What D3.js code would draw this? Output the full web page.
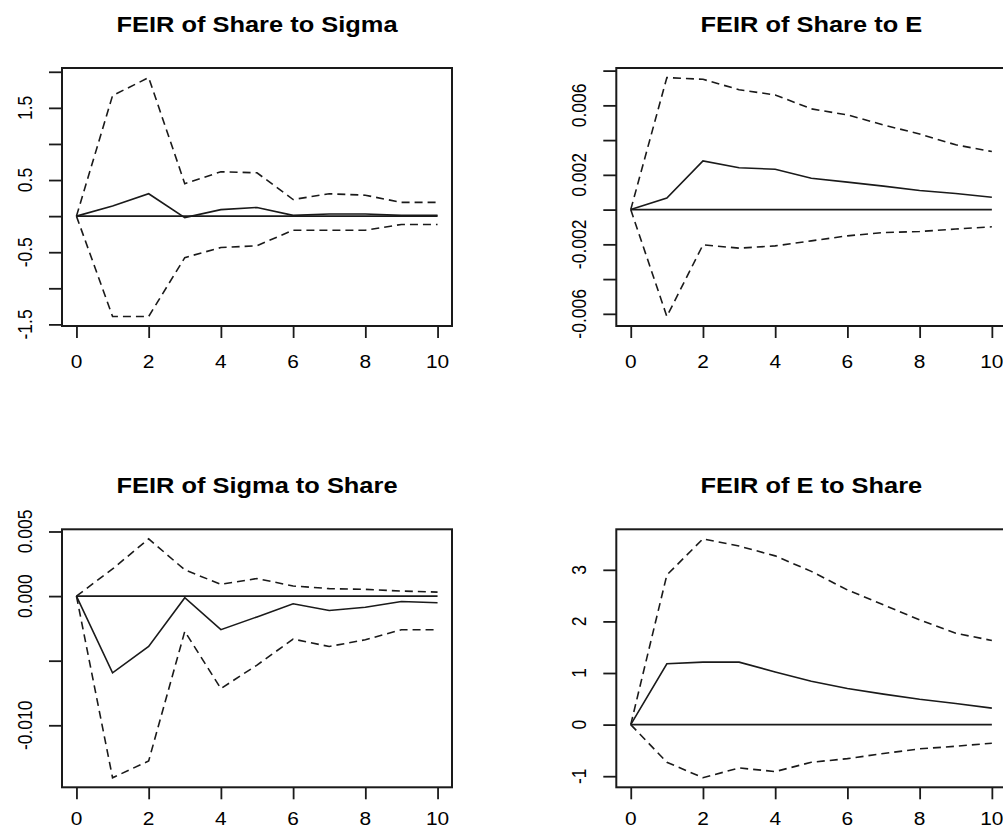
<!DOCTYPE html>
<html>
<head>
<meta charset="utf-8">
<script src="https://cdn.jsdelivr.net/npm/d3@7"></script>
<style>
  body { margin: 0; background: #fff; }
  svg { display: block; }
  text { font-family: "Liberation Sans", Arial, sans-serif; fill: #000; }
</style>
</head>
<body>
<div id="chart"></div>
<script>
'use strict';

// forecast horizon
var steps = [0, 1, 2, 3, 4, 5, 6, 7, 8, 9, 10];
var xTicks = [0, 2, 4, 6, 8, 10];

// FEIR of Share to Sigma
var shareSigmaIrf = [0, 0.14, 0.31, -0.02, 0.09, 0.12, 0.01, 0.03, 0.03, 0.01, 0.01];
var shareSigmaUpper = [0, 1.67, 1.92, 0.45, 0.615, 0.60, 0.23, 0.31, 0.29, 0.19, 0.19];
var shareSigmaLower = [0, -1.39, -1.39, -0.575, -0.435, -0.41, -0.195, -0.195, -0.195, -0.115, -0.115];
var shareSigmaTicks = [-1.5, -1, -0.5, 0, 0.5, 1, 1.5, 2];
var shareSigmaLabels = ["-1.5", "", "-0.5", "", "0.5", "", "1.5", ""];

// FEIR of Share to E
var shareEIrf = [0, 0.00066, 0.0028, 0.00241, 0.00232, 0.0018, 0.00158, 0.00135, 0.0011, 0.00093, 0.00071];
var shareEUpper = [0, 0.0076, 0.0075, 0.0069, 0.0066, 0.0058, 0.00545, 0.00487, 0.00435, 0.00373, 0.00334];
var shareELower = [0, -0.00615, -0.00203, -0.00222, -0.00209, -0.0018, -0.00151, -0.00132, -0.00126, -0.00112, -0.00099];
var shareETicks = [-0.006, -0.004, -0.002, 0, 0.002, 0.004, 0.006, 0.008];
var shareELabels = ["-0.006", "", "-0.002", "", "0.002", "", "0.006", ""];

// FEIR of Sigma to Share
var sigmaShareIrf = [0, -0.00594, -0.0039, -0.00013, -0.0026, -0.00161, -0.00059, -0.00112, -0.00086, -0.00042, -0.00052];
var sigmaShareUpper = [0, 0.0021, 0.00443, 0.00203, 0.00091, 0.00136, 0.00078, 0.00058, 0.00052, 0.00039, 0.00031];
var sigmaShareLower = [0, -0.01406, -0.01276, -0.00273, -0.00716, -0.00534, -0.00333, -0.0039, -0.00338, -0.0026, -0.0026];
var sigmaShareTicks = [-0.010, -0.005, 0, 0.005];
var sigmaShareLabels = ["-0.010", "", "0.000", "0.005"];

// FEIR of E to Share
var eShareIrf = [0, 1.18, 1.21, 1.21, 1.02, 0.84, 0.70, 0.59, 0.49, 0.41, 0.32];
var eShareUpper = [0, 2.90, 3.60, 3.46, 3.27, 2.97, 2.61, 2.32, 2.03, 1.77, 1.63];
var eShareLower = [0, -0.73, -1.03, -0.84, -0.91, -0.73, -0.66, -0.56, -0.47, -0.42, -0.36];
var eShareTicks = [-1, 0, 1, 2, 3];
var eShareLabels = ["-1", "0", "1", "2", "3"];

var panels = [
  { title: "FEIR of Share to Sigma", irf: shareSigmaIrf, upper: shareSigmaUpper, lower: shareSigmaLower,
    ticks: shareSigmaTicks, labels: shareSigmaLabels, col: 0, row: 0 },
  { title: "FEIR of Share to E", irf: shareEIrf, upper: shareEUpper, lower: shareELower,
    ticks: shareETicks, labels: shareELabels, col: 1, row: 0 },
  { title: "FEIR of Sigma to Share", irf: sigmaShareIrf, upper: sigmaShareUpper, lower: sigmaShareLower,
    ticks: sigmaShareTicks, labels: sigmaShareLabels, col: 0, row: 1 },
  { title: "FEIR of E to Share", irf: eShareIrf, upper: eShareUpper, lower: eShareLower,
    ticks: eShareTicks, labels: eShareLabels, col: 1, row: 1 }
];

var width = 1003, height = 829;
var colLeft = [62, 616.3];
var rowTop = [68, 529.3];
var boxW = 390, boxH = 258;
var stretch = 1.13;   // the picture is a bit wider than tall
var ink = "#1a1a1a";

var svg = d3.select("#chart")
  .append("svg")
  .attr("width", width)
  .attr("height", height);

// R style range: data extent widened by 4% on each side
function padded(lo, hi) {
  var r = hi - lo;
  return [lo - 0.04 * r, hi + 0.04 * r];
}

function drawPanel(p) {
  var left = colLeft[p.col], top = rowTop[p.row];
  var bottom = top + boxH;

  var x = d3.scaleLinear()
    .domain(padded(0, 10))
    .range([left, left + boxW]);

  var all = p.irf.concat(p.upper, p.lower);
  var y = d3.scaleLinear()
    .domain(padded(d3.min(all), d3.max(all)))
    .range([bottom, top]);

  var g = svg.append("g").attr("class", "panel");

  // title
  g.append("text")
    .attr("transform", "translate(" + (left + boxW / 2) + "," + (top - 36.5) + ") scale(" + stretch + ",1)")
    .attr("text-anchor", "middle")
    .style("font-size", "22.5px")
    .style("font-weight", "bold")
    .text(p.title);

  // x axis
  var xAxis = d3.axisBottom(x)
    .tickValues(xTicks)
    .tickSize(12)
    .tickFormat("");
  g.append("g")
    .attr("transform", "translate(0," + bottom + ")")
    .call(xAxis)
    .call(function(a) { a.select(".domain").remove(); })
    .selectAll("line")
    .attr("stroke", ink)
    .attr("stroke-width", 1.8);

  // bottom row labels sit at the page edge, keep them just inside
  g.selectAll(".xlab")
    .data(xTicks)
    .enter()
    .append("text")
    .attr("class", "xlab")
    .attr("transform", function(d) {
      return "translate(" + x(d) + "," + Math.min(bottom + 41.5, height - 4.5) + ") scale(" + stretch + ",1)";
    })
    .attr("text-anchor", "middle")
    .style("font-size", "18.5px")
    .text(function(d) { return d; });

  // y axis
  var yAxis = d3.axisLeft(y)
    .tickValues(p.ticks)
    .tickSize(13)
    .tickFormat("");
  g.append("g")
    .attr("transform", "translate(" + left + ",0)")
    .call(yAxis)
    .call(function(a) { a.select(".domain").remove(); })
    .selectAll("line")
    .attr("stroke", ink)
    .attr("stroke-width", 1.8);

  g.selectAll(".ylab")
    .data(p.ticks)
    .enter()
    .append("text")
    .attr("class", "ylab")
    .attr("transform", function(d) {
      return "translate(" + (left - 30) + "," + y(d) + ") scale(" + stretch + ",1) rotate(-90)";
    })
    .attr("text-anchor", "middle")
    .style("font-size", "17.5px")
    .text(function(d, i) { return p.labels[i]; });

  // plot box
  g.append("rect")
    .attr("x", left)
    .attr("y", top)
    .attr("width", boxW)
    .attr("height", boxH)
    .attr("fill", "none")
    .attr("stroke", ink)
    .attr("stroke-width", 2);

  var line = d3.line()
    .x(function(d, i) { return x(steps[i]); })
    .y(function(d) { return y(d); });

  // zero reference line
  g.append("path")
    .attr("d", line(steps.map(function() { return 0; })))
    .attr("fill", "none")
    .attr("stroke", ink)
    .attr("stroke-width", 1.6);

  g.append("path")
    .attr("d", line(p.irf))
    .attr("fill", "none")
    .attr("stroke", ink)
    .attr("stroke-width", 1.6);

  [p.upper, p.lower].forEach(function(band) {
    g.append("path")
      .attr("d", line(band))
      .attr("fill", "none")
      .attr("stroke", ink)
      .attr("stroke-width", 1.6)
      .attr("stroke-dasharray", "8,5");
  });
}

panels.forEach(drawPanel);
</script>
</body>
</html>
